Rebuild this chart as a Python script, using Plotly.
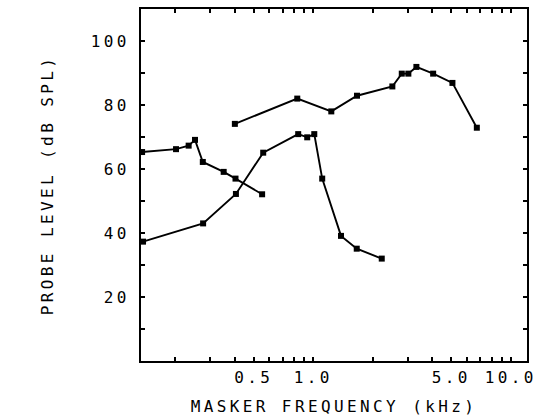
import plotly.graph_objects as go

# Masker frequency (kHz) and probe level (dB SPL) for the three curves
freq_a = [0.401, 0.830, 1.234, 1.665, 2.514, 2.806, 3.03, 3.327, 4.045, 5.064, 6.73]
level_a = [74.1, 82.0, 78.0, 82.9, 85.8, 89.8, 89.8, 91.9, 89.8, 86.9, 72.9]

freq_b = [0.136, 0.202, 0.234, 0.252, 0.276, 0.352, 0.404, 0.551]
level_b = [65.3, 66.2, 67.3, 69.1, 62.2, 59.1, 57.0, 52.1]

freq_c = [0.1375, 0.277, 0.406, 0.558, 0.839, 0.932, 1.012, 1.11, 1.382, 1.66, 2.222]
level_c = [37.3, 43.0, 52.2, 65.1, 70.9, 69.9, 70.9, 57.0, 39.1, 35.1, 32.0]

x_tickvals = [0.2, 0.3, 0.4, 0.5, 0.6, 0.7, 0.8, 0.9, 1, 2, 3, 4, 5, 6, 7, 8, 9, 10]
x_ticktext = ["", "", "", "0.5", "", "", "", "", "1.0", "", "", "", "5.0", "", "", "", "", "10.0"]
y_tickvals = [10, 20, 30, 40, 50, 60, 70, 80, 90, 100]
y_ticktext = ["", "20", "", "40", "", "60", "", "80", "", "100"]

FONT = "DejaVu Sans Mono"

fig = go.Figure()
for fx, ly in [(freq_a, level_a), (freq_b, level_b), (freq_c, level_c)]:
    fig.add_trace(go.Scatter(
        x=fx, y=ly, mode="lines+markers",
        line=dict(color="black", width=1.9),
        marker=dict(symbol="square", size=6, color="black"),
        cliponaxis=False, showlegend=False,
    ))

fig.update_layout(
    width=548, height=416,
    margin=dict(l=141, r=21, t=9, b=55),
    paper_bgcolor="white", plot_bgcolor="white",
    font=dict(family=FONT, size=16, color="black"),
)
fig.update_xaxes(
    type="log", range=[-0.872, 1.082], automargin=False,
    tickvals=x_tickvals, ticktext=x_ticktext,
    ticks="inside", ticklen=4, tickwidth=1.5, tickcolor="black",
    showline=True, linecolor="black", linewidth=1.8, mirror="ticks",
    showgrid=False, zeroline=False,
    ticklabelstandoff=1,
    title=dict(text="MASKER FREQUENCY (kHz)", standoff=18,
               font=dict(family=FONT, size=16, color="black")),
)
fig.update_yaxes(
    range=[0, 110], automargin=False,
    tickvals=y_tickvals, ticktext=y_ticktext,
    ticks="inside", ticklen=4, tickwidth=1.5, tickcolor="black",
    showline=True, linecolor="black", linewidth=1.8, mirror="ticks",
    showgrid=False, zeroline=False,
    ticklabelstandoff=6,
    title=dict(text="PROBE LEVEL (dB SPL)", standoff=43,
               font=dict(family=FONT, size=16, color="black")),
)

post = """
var s = document.createElement('style');
s.textContent = '.main-svg text { letter-spacing: 3.4px; }';
document.head.appendChild(s);
"""
fig.write_html("out.html", post_script=post)
